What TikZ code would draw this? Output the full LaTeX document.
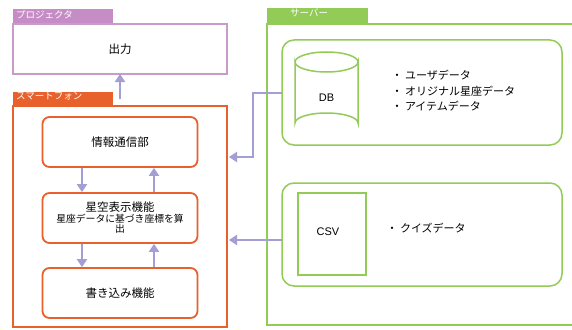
\documentclass[tikz,border=0pt]{standalone}
\usepackage{fontspec}
\setmainfont{Liberation Sans}
\newfontfamily\jp{Noto Sans CJK JP}
\usetikzlibrary{arrows.meta}
\definecolor{purp}{HTML}{C99BCB}
\definecolor{purptab}{HTML}{C68CC6}
\definecolor{orng}{HTML}{E8602C}
\definecolor{grn}{HTML}{92CB55}
\definecolor{lav}{HTML}{A39ED3}
\begin{document}
\begin{tikzpicture}[x=1pt,y=-1pt,
  tabbox/.style={inner sep=0pt, anchor=north west, font=\jp\fontsize{9.5}{10}\selectfont, text=white},
  framebox/.style={line width=1.8pt},
  inbox/.style={draw=orng, line width=1.8pt, rounded corners=7pt, fill=white},
  grpbox/.style={draw=grn, line width=1.5pt, rounded corners=12pt},
  conn/.style={draw=lav, line width=2.2pt, -{Triangle[length=8pt,width=10pt]}},
  thin/.style={draw=lav, line width=1.1pt},
  lbl/.style={font=\jp\fontsize{11.5}{13}\selectfont},
  blt/.style={font=\jp\fontsize{11}{15.5}\selectfont, align=left, anchor=west}
]
\useasboundingbox[fill=white] (0,0) rectangle (572,329);
% Projector
\fill[purptab] (13,9) rectangle (113,24);
\node[tabbox] (ptab) at (16,10) {プロジェクタ};
\draw[purp, framebox] (13,24) rectangle (227,74);
\node[lbl] (out) at (120,49) {出力};
\coordinate (projb) at (120,74);
% Smartphone
\fill[orng] (13,92) rectangle (113,106);
\node[tabbox] (stab) at (16,92) {スマートフォン};
\draw[orng, framebox] (13,106) -- (227,106) -- (227,327) -- (13,327) -- cycle;
\coordinate (smtop) at (120,99);
\draw[conn] (smtop) -- (projb);
% inner boxes
\node[inbox, minimum width=155pt, minimum height=50pt, lbl] (comm) at (120,142) {情報通信部};
\node[inbox, minimum width=155pt, minimum height=50pt, align=center] (star) at (120,218)
  {{\jp\fontsize{11.5}{13}\selectfont 星空表示機能}\\[-1pt]{\jp\fontsize{9.8}{11}\selectfont 星座データに基づき座標を算}\\[-2pt]{\jp\fontsize{9.8}{11}\selectfont 出}};
\node[inbox, minimum width=155pt, minimum height=50pt, lbl] (write) at (120,293) {書き込み機能};
\draw[conn] ([xshift=-38pt]comm.south) -- ([xshift=-38pt]star.north);
\draw[conn] ([xshift=34pt]star.north) -- ([xshift=34pt]comm.south);
\draw[conn] ([xshift=-38pt]star.south) -- ([xshift=-38pt]write.north);
\draw[conn] ([xshift=34pt]write.north) -- ([xshift=34pt]star.south);
% Server
\fill[grn] (267,8) rectangle (368,24);
\node[tabbox] (svtab) at (290,9) {サーバー};
\draw[grn, framebox] (572,24) -- (267,24) -- (267,325) -- (572,325);
% DB group
\draw[grpbox] (282,40) rectangle (562,145);
\coordinate (dbgl) at (282,93);
\draw[grn, line width=1.5pt, fill=white] (295,62) -- (295,123) arc[start angle=180,end angle=360,x radius=31.5,y radius=10] -- (358,62) arc[start angle=0,end angle=180,x radius=31.5,y radius=10] -- cycle;
\draw[grn, line width=1.5pt] (295,62) arc[start angle=180,end angle=360,x radius=31.5,y radius=10];
\node[font=\fontsize{11}{12}\selectfont] (db) at (326.5,98) {DB};
\node[blt] (dblist) at (388,91) {・ ユーザデータ\\・ オリジナル星座データ\\・ アイテムデータ};
% CSV group
\draw[grpbox] (282,183) rectangle (562,286);
\coordinate (csvgl) at (282,240);
\draw[grn, line width=1.5pt] (298,193) rectangle (366,275);
\node[font=\fontsize{11}{12}\selectfont] (csv) at (328,232) {CSV};
\node[blt] (csvlist) at (383,228) {・ クイズデータ};
% connectors to smartphone
\coordinate (c1) at (253,93);
\coordinate (c2) at (253,157);
\coordinate (smr1) at (229,157);
\coordinate (smr2) at (229,240);
\draw[thin] (dbgl) -- (c1) -- (c2) -- ([xshift=6pt]smr1);
\draw[conn] ([xshift=10pt]smr1) -- (smr1);
\draw[thin] (csvgl) -- ([xshift=6pt]smr2);
\draw[conn] ([xshift=10pt]smr2) -- (smr2);
\end{tikzpicture}
\end{document}
